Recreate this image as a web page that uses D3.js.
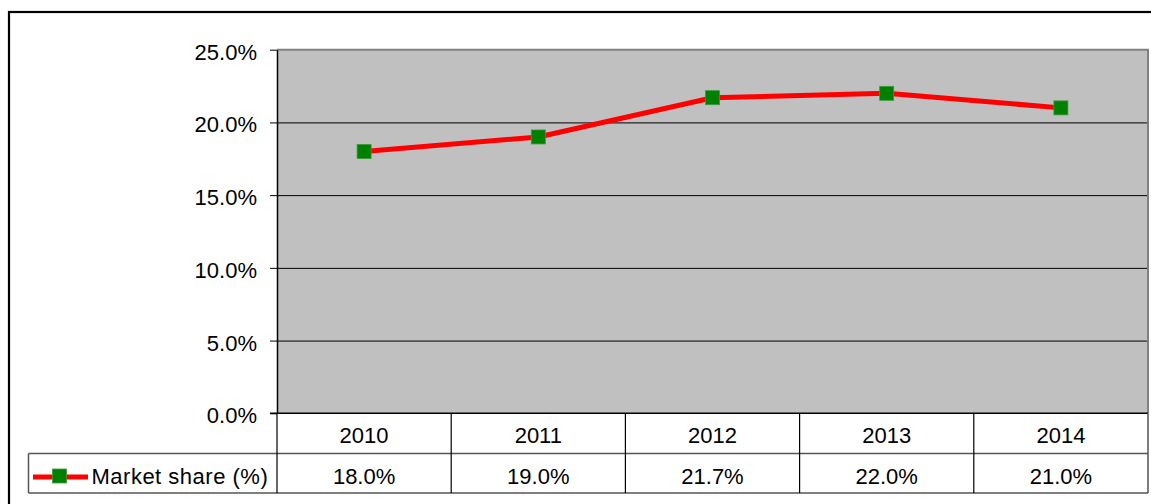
<!DOCTYPE html>
<html>
<head>
<meta charset="utf-8">
<script src="https://cdn.jsdelivr.net/npm/d3@7"></script>
<style>
  body { margin: 0; background: #fff; }
  text { font-family: "Liberation Sans", Arial, sans-serif; font-size: 22px; fill: #000; }
</style>
</head>
<body>
<div id="chart"></div>
<script>
var years = ["2010", "2011", "2012", "2013", "2014"];
var share = [18.0, 19.0, 21.7, 22.0, 21.0];
var seriesName = "Market share (%)";
var yTicks = [0, 5, 10, 15, 20, 25];

var width = 1151,
    height = 504;

var plotLeft = 277, plotRight = 1148, plotTop = 49.7, plotBottom = 413.3,
    row1 = 453.5, row2 = 493, legendLeft = 28.5;

var svg = d3.select("#chart").append("svg")
    .attr("width", width)
    .attr("height", height);

// outer frame
svg.append("rect")
    .attr("x", 9).attr("y", 12)
    .attr("width", 1200).attr("height", 600)
    .attr("fill", "#fff")
    .attr("stroke", "#000")
    .attr("stroke-width", 2.2);

var x = d3.scaleBand().domain(years).range([plotLeft, plotRight]);
var y = d3.scaleLinear().domain([0, 25]).range([plotBottom, plotTop]);

// plot area
svg.append("rect")
    .attr("x", plotLeft).attr("y", plotTop)
    .attr("width", plotRight - plotLeft).attr("height", plotBottom - plotTop)
    .attr("fill", "#c0c0c0");

// gridlines
svg.append("g")
    .attr("transform", "translate(" + plotLeft + ",0)")
    .call(d3.axisLeft(y).tickValues(yTicks.slice(1, -1)).tickSize(-(plotRight - plotLeft)).tickFormat(""))
    .call(function(g) { g.select(".domain").remove(); })
    .selectAll("line").attr("stroke", "#000").attr("stroke-width", 1);

// top and right border of plot
svg.append("path")
    .attr("d", "M" + plotLeft + "," + plotTop + "H" + plotRight + "V" + plotBottom)
    .attr("fill", "none")
    .attr("stroke", "#808080")
    .attr("stroke-width", 2);

// y axis
var yAxis = svg.append("g")
    .attr("transform", "translate(" + plotLeft + ",0)")
    .call(d3.axisLeft(y).tickValues(yTicks).tickSize(7).tickSizeOuter(0)
      .tickFormat(function(d) { return d.toFixed(1) + "%"; }));
yAxis.select(".domain").attr("stroke", "#000").attr("stroke-width", 1.5);
yAxis.selectAll(".tick line").attr("stroke", "#000").attr("stroke-width", 1);
yAxis.selectAll(".tick text")
    .attr("x", -20)
    .attr("dy", "9.5")
    .attr("fill", "#000")
    .style("font-size", "22px")
    .style("font-family", "'Liberation Sans', Arial, sans-serif");

// data table
var table = svg.append("g");
table.append("line")
    .attr("x1", plotLeft - 7).attr("x2", plotRight).attr("y1", plotBottom).attr("y2", plotBottom)
    .attr("stroke", "#000").attr("stroke-width", 1.5);
table.append("line")
    .attr("x1", legendLeft).attr("x2", plotRight).attr("y1", row1).attr("y2", row1)
    .attr("stroke", "#555").attr("stroke-width", 1.5);
table.append("line")
    .attr("x1", legendLeft).attr("x2", plotRight).attr("y1", row2).attr("y2", row2)
    .attr("stroke", "#555").attr("stroke-width", 1.5);
table.append("line")
    .attr("x1", legendLeft).attr("x2", legendLeft).attr("y1", row1).attr("y2", row2)
    .attr("stroke", "#555").attr("stroke-width", 1.5);
table.selectAll(".vline")
    .data(years.concat(["end"]))
    .enter().append("line")
    .attr("class", "vline")
    .attr("x1", function(d) { return d === "end" ? plotRight : x(d); })
    .attr("x2", function(d) { return d === "end" ? plotRight : x(d); })
    .attr("y1", plotBottom).attr("y2", row2)
    .attr("stroke", function(d) { return d === "end" ? "#555" : "#000"; })
    .attr("stroke-width", function(d) { return d === "end" ? 1.5 : 1.2; });

table.selectAll(".year")
    .data(years)
    .enter().append("text")
    .attr("x", function(d) { return x(d) + x.bandwidth() / 2; })
    .attr("y", 442.5)
    .attr("text-anchor", "middle")
    .text(function(d) { return d; });

table.selectAll(".val")
    .data(share)
    .enter().append("text")
    .attr("x", function(d, i) { return x(years[i]) + x.bandwidth() / 2; })
    .attr("y", 484)
    .attr("text-anchor", "middle")
    .text(function(d) { return d.toFixed(1) + "%"; });

// legend key
table.append("line")
    .attr("x1", 33).attr("x2", 88).attr("y1", 477).attr("y2", 477)
    .attr("stroke", "#ff0000").attr("stroke-width", 5);
table.append("rect")
    .attr("x", 52.5).attr("y", 469).attr("width", 14).attr("height", 14)
    .attr("fill", "#008000").attr("stroke", "#3a9a3a").attr("stroke-width", 0.8);
table.append("text")
    .attr("x", 91.5).attr("y", 484)
    .style("letter-spacing", "0.5px")
    .text(seriesName);

// series line
var line = d3.line()
    .x(function(d, i) { return x(years[i]) + x.bandwidth() / 2; })
    .y(function(d) { return y(d); });

svg.append("path")
    .datum(share)
    .attr("d", line)
    .attr("fill", "none")
    .attr("stroke", "#ff0000")
    .attr("stroke-width", 5)
    .attr("stroke-linejoin", "round");

svg.selectAll(".marker")
    .data(share)
    .enter().append("rect")
    .attr("class", "marker")
    .attr("x", function(d, i) { return x(years[i]) + x.bandwidth() / 2 - 7; })
    .attr("y", function(d) { return y(d) - 7; })
    .attr("width", 14).attr("height", 14)
    .attr("fill", "#008000")
    .attr("stroke", "#3a9a3a")
    .attr("stroke-width", 0.8);
</script>
</body>
</html>
